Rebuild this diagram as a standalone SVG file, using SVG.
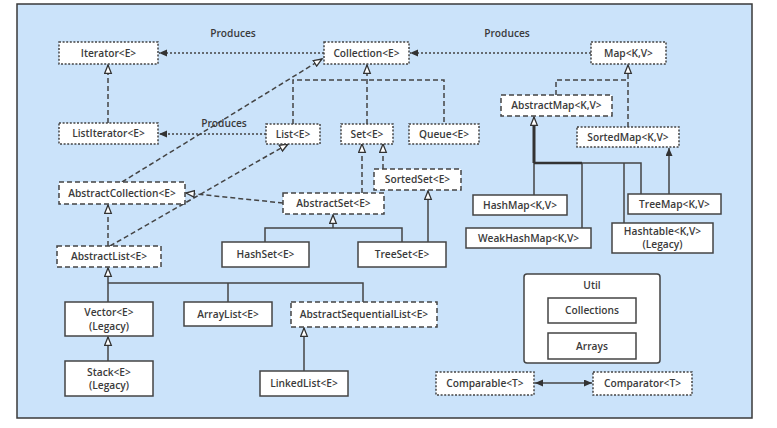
<svg xmlns="http://www.w3.org/2000/svg" width="777" height="428" viewBox="0 0 777 428">
<style>
text{font-family:"Open Sans","Liberation Sans",sans-serif;font-size:10.2px;font-weight:600;fill:#3a3a3a;text-anchor:middle}
.box{fill:#fff;stroke:#444;stroke-width:1.5}
.dot{stroke-dasharray:2 1.6}
.dash{stroke-dasharray:5 3}
.ln{fill:none;stroke:#444;stroke-width:1.5}
.lnd{fill:none;stroke:#444;stroke-width:1.5;stroke-dasharray:5 3}
.lnp{fill:none;stroke:#444;stroke-width:1.3;stroke-dasharray:2 2}
</style>
<defs>
<marker id="h" markerUnits="userSpaceOnUse" markerWidth="11" markerHeight="10" refX="9" refY="4" orient="auto">
<path d="M0.7,0.7 L9,4 L0.7,7.3 z" fill="#fff" stroke="#333" stroke-width="1.3" stroke-dasharray="none"/>
</marker>
<marker id="f" markerUnits="userSpaceOnUse" markerWidth="10" markerHeight="10" refX="8" refY="3.5" orient="auto">
<path d="M0,0 L8,3.5 L0,7 z" fill="#333" stroke="none"/>
</marker>
<marker id="fs" markerUnits="userSpaceOnUse" markerWidth="10" markerHeight="10" refX="8" refY="3.5" orient="auto-start-reverse">
<path d="M0,0 L8,3.5 L0,7 z" fill="#333" stroke="none"/>
</marker>
</defs>
<rect x="0" y="0" width="777" height="428" fill="#fff"/>
<rect x="17" y="4" width="735" height="414" fill="#cbe3fa" stroke="#3a3a3a" stroke-width="1.5"/>

<g id="connectors">
<path class="lnp" d="M324,53 H159" marker-end="url(#f)"/>
<path class="lnp" d="M591,53 H410" marker-end="url(#f)"/>
<path class="lnp" d="M266,134 H159" marker-end="url(#f)"/>
<path class="lnd" d="M108,123 V65" marker-end="url(#h)"/>
<path class="lnd" d="M293,124 V80 H444 V124"/>
<path class="lnd" d="M367,124 V65" marker-end="url(#h)"/>
<path class="lnd" d="M122,182 L322,59" marker-end="url(#h)"/>
<path class="lnd" d="M110,246 L288,144" marker-end="url(#h)"/>
<path class="lnd" d="M108,246 V205" marker-end="url(#h)"/>
<path class="lnd" d="M283,203 L186,193" marker-end="url(#h)"/>
<path class="lnd" d="M362,193 V144" marker-end="url(#h)"/>
<path class="lnd" d="M383,169 V144" marker-end="url(#h)"/>
<path class="ln" d="M265,242 V228 H402 V242"/>
<path class="ln" d="M333,228 V215" marker-end="url(#h)"/>
<path class="ln" d="M428,242 V191" marker-end="url(#h)"/>
<path class="ln" d="M108,302 V268" marker-end="url(#h)"/>
<path class="ln" d="M108,283 H363 V302"/>
<path class="ln" d="M228,283 V302"/>
<path class="ln" d="M108,361 V337" marker-end="url(#h)"/>
<path class="ln" d="M304,371 V328" marker-end="url(#h)"/>
<path class="lnd" d="M556,95 V80 H628"/>
<path class="lnd" d="M628,127 V65" marker-end="url(#h)"/>
<path class="ln" d="M534,195 V163 H641 V194"/>
<path class="ln" d="M582,163 V228"/>
<path class="ln" d="M624,163 V223"/>
<path fill="none" stroke="#333" stroke-width="3" d="M534,163 V124"/>
<path fill="none" stroke="#333" stroke-width="2.5" d="M534,163 H582"/>
<path class="ln" d="M534,126 V117" marker-end="url(#h)"/>
<path class="ln" d="M669,194 V148" marker-end="url(#f)"/>
<path class="ln" d="M535,383 H592" marker-start="url(#fs)" marker-end="url(#f)"/>
</g>

<g id="labels">
<text x="233" y="37">Produces</text>
<text x="507" y="37">Produces</text>
<text x="224" y="127">Produces</text>
</g>

<g id="iterator"><rect class="box dot" x="59" y="42" width="99" height="22"/><text x="108.5" y="56.5">Iterator&lt;E&gt;</text></g>
<g id="listiterator"><rect class="box dot" x="59" y="123" width="99" height="21"/><text x="108.5" y="137">ListIterator&lt;E&gt;</text></g>
<g id="collection"><rect class="box dot" x="324" y="42" width="85" height="22"/><text x="366.5" y="56.5">Collection&lt;E&gt;</text></g>
<g id="map"><rect class="box dot" x="591" y="42" width="75" height="22"/><text x="628.5" y="56.5">Map&lt;K,V&gt;</text></g>
<g id="list"><rect class="box dot" x="266" y="124" width="54" height="20"/><text x="293" y="137.5">List&lt;E&gt;</text></g>
<g id="set"><rect class="box dot" x="341" y="124" width="52" height="20"/><text x="367" y="137.5">Set&lt;E&gt;</text></g>
<g id="queue"><rect class="box dot" x="409" y="124" width="70" height="20"/><text x="444" y="137.5">Queue&lt;E&gt;</text></g>
<g id="abstractmap"><rect class="box dash" x="501" y="95" width="111" height="21"/><text x="556.5" y="109">AbstractMap&lt;K,V&gt;</text></g>
<g id="sortedmap"><rect class="box dot" x="577" y="127" width="102" height="20"/><text x="628" y="140.5">SortedMap&lt;K,V&gt;</text></g>
<g id="hashmap"><rect class="box" x="473" y="195" width="94" height="20"/><text x="520" y="208.5">HashMap&lt;K,V&gt;</text></g>
<g id="weakhashmap"><rect class="box" x="466" y="228" width="125" height="20"/><text x="528.5" y="241.5">WeakHashMap&lt;K,V&gt;</text></g>
<g id="treemap"><rect class="box" x="628" y="194" width="93" height="20"/><text x="674.5" y="207.5">TreeMap&lt;K,V&gt;</text></g>
<g id="hashtable"><rect class="box" x="612" y="223" width="101" height="30"/><text x="662.5" y="235">Hashtable&lt;K,V&gt;</text><text x="662.5" y="248">(Legacy)</text></g>
<g id="abstractcollection"><rect class="box dash" x="59" y="182" width="126" height="22"/><text x="122" y="196.5">AbstractCollection&lt;E&gt;</text></g>
<g id="abstractlist"><rect class="box dash" x="57" y="246" width="104" height="21"/><text x="109" y="260">AbstractList&lt;E&gt;</text></g>
<g id="sortedset"><rect class="box dash" x="374" y="169" width="87" height="21"/><text x="417.5" y="183">SortedSet&lt;E&gt;</text></g>
<g id="abstractset"><rect class="box dash" x="283" y="193" width="101" height="21"/><text x="333.5" y="207">AbstractSet&lt;E&gt;</text></g>
<g id="hashset"><rect class="box" x="222" y="242" width="87" height="25"/><text x="265.5" y="258">HashSet&lt;E&gt;</text></g>
<g id="treeset"><rect class="box" x="358" y="242" width="88" height="25"/><text x="402" y="258">TreeSet&lt;E&gt;</text></g>
<g id="vector"><rect class="box" x="65" y="302" width="88" height="34"/><text x="109" y="316">Vector&lt;E&gt;</text><text x="109" y="329.5">(Legacy)</text></g>
<g id="stack"><rect class="box" x="65" y="361" width="88" height="35"/><text x="109" y="375.5">Stack&lt;E&gt;</text><text x="109" y="389">(Legacy)</text></g>
<g id="arraylist"><rect class="box" x="184" y="302" width="88" height="24"/><text x="228" y="317.5">ArrayList&lt;E&gt;</text></g>
<g id="abstractsequentiallist"><rect class="box dash" x="291" y="302" width="146" height="25"/><text x="364" y="318">AbstractSequentialList&lt;E&gt;</text></g>
<g id="linkedlist"><rect class="box" x="260" y="371" width="88" height="25"/><text x="304" y="387">LinkedList&lt;E&gt;</text></g>
<g id="comparable"><rect class="box dot" x="436" y="372" width="98" height="23"/><text x="485" y="387">Comparable&lt;T&gt;</text></g>
<g id="comparator"><rect class="box dot" x="593" y="372" width="99" height="23"/><text x="642.5" y="387">Comparator&lt;T&gt;</text></g>
<g id="util"><rect class="box" x="524" y="274" width="136" height="89" rx="3"/><text x="592" y="289">Util</text>
<rect class="box" x="548" y="298" width="88" height="25"/><text x="592" y="314">Collections</text>
<rect class="box" x="548" y="333" width="88" height="26"/><text x="592" y="349.5">Arrays</text></g>
</svg>
